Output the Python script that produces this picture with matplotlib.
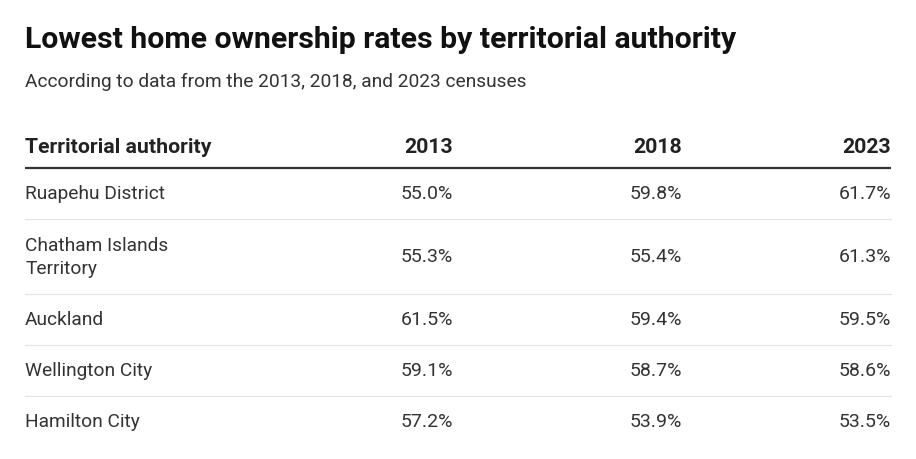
import matplotlib.pyplot as plt

# table data
authorities = ["Ruapehu District", "Chatham Islands\nTerritory", "Auckland",
               "Wellington City", "Hamilton City"]
years = ["2013", "2018", "2023"]
rate_2013 = [55.0, 55.3, 61.5, 59.1, 57.2]
rate_2018 = [59.8, 55.4, 59.4, 58.7, 53.9]
rate_2023 = [61.7, 61.3, 59.5, 58.6, 53.5]

plt.rcParams['font.family'] = ['Roboto', 'DejaVu Sans']

W, H = 916, 460
fig = plt.figure(figsize=(W / 100, H / 100), dpi=100)
ax = fig.add_axes([0, 0, 1, 1])
ax.set_xlim(0, W)
ax.set_ylim(H, 0)
ax.axis('off')

left, right = 25, 891
col_x = [453, 682, 891]

ax.text(left, 48, "Lowest home ownership rates by territorial authority",
        fontsize=21.8, fontweight='bold', color='#111111', va='baseline')
ax.text(left, 87, "According to data from the 2013, 2018, and 2023 censuses",
        fontsize=13.8, color='#333333', va='baseline')

# header
ax.text(left, 153, "Territorial authority", fontsize=15.3, fontweight='bold',
        color='#222222', va='baseline')
for x, yr in zip(col_x, years):
    ax.text(x, 153, yr, fontsize=15.3, fontweight='bold', color='#222222',
            va='baseline', ha='right')
ax.plot([left, right], [169, 169], color='#333333', lw=1.6,
        solid_capstyle='butt')

# rows
top = 169
for i, name in enumerate(authorities):
    nlines = name.count("\n") + 1
    h = 51 if nlines == 1 else 75
    yc = top + h / 2
    ax.text(left, yc, name, fontsize=13.8, color='#333333', va='center',
            linespacing=1.4)
    for x, vals in zip(col_x, [rate_2013, rate_2018, rate_2023]):
        ax.text(x, yc, f"{vals[i]:.1f}%", fontsize=14, color='#333333',
                va='center', ha='right')
    top += h
    if i < len(authorities) - 1:
        ax.plot([left, right], [top, top], color='#e3e3e3', lw=0.8)

fig.savefig("out.png", dpi=100, facecolor='white')
